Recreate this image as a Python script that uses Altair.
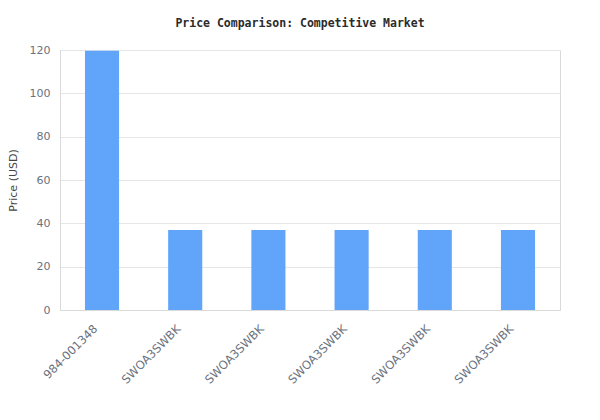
import altair as alt
import pandas as pd

ids = ["p1", "p2", "p3", "p4", "p5", "p6"]
labels = ["984-001348", "SWOA3SWBK", "SWOA3SWBK", "SWOA3SWBK", "SWOA3SWBK", "SWOA3SWBK"]
prices = [119.6, 36.9, 36.9, 36.9, 36.9, 36.9]

df = pd.DataFrame({"id": ids, "label": labels, "price": prices})

mapping = "{" + ",".join(f'"{i}":"{l}"' for i, l in zip(ids, labels)) + "}"

chart = alt.Chart(df).mark_bar(color="#60a5fa").encode(
    x=alt.X("id:N", sort=ids, title=None,
            scale=alt.Scale(paddingInner=0.59, paddingOuter=0.3),
            axis=alt.Axis(labelExpr=f"{mapping}[datum.value]", labelAngle=-45,
                          labelAlign="right", labelBaseline="middle",
                          labelColor="#6b7280", labelFontSize=11.6, ticks=False,
                          domainColor="#d9d9d9", labelPadding=17, labelOffset=-6)),
    y=alt.Y("price:Q", title="Price (USD)",
            scale=alt.Scale(domain=[0, 120]),
            axis=alt.Axis(values=[0, 20, 40, 60, 80, 100, 120], labelColor="#6b7280",
                          labelFontSize=11, ticks=False, domainColor="#d9d9d9",
                          gridColor="#e6e6e6", titleColor="#444444", titleFontSize=11,
                          titleFontWeight="normal", labelPadding=10, titlePadding=11)),
).properties(
    width=500, height=260,
    title=alt.TitleParams("Price Comparison: Competitive Market", font="DejaVu Sans Mono",
                          fontSize=11.5, fontWeight="bold", color="#2b2b2b", offset=15, dx=-10),
    autosize=alt.AutoSizeParams(type="none"),
    padding={"left": 52, "top": 42, "right": 32, "bottom": 102},
).configure_view(stroke="#d9d9d9").configure_axis(labelFont="DejaVu Sans", titleFont="DejaVu Sans")

chart.save("out.html", embed_options={"renderer": "svg", "actions": False})
